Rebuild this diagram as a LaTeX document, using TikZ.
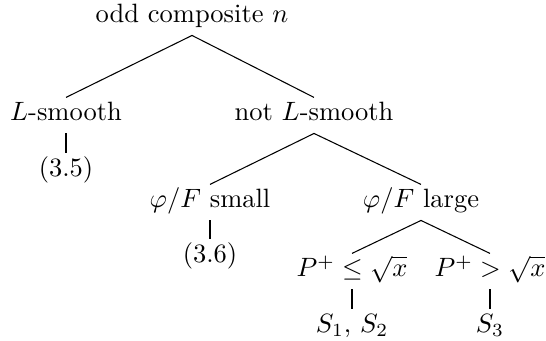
\documentclass[tikz,border=0pt]{standalone}
\usepackage{amsmath,amssymb}
\usepackage{tikz}

\begin{document}
\begin{tikzpicture}[x=0.3774pt,y=-0.3774pt,
    case/.style={anchor=base,inner sep=1.5pt,text height=7.2pt,text depth=3pt}]
    \useasboundingbox (0,0) rectangle (546,341);
    \foreach \name/\x/\y/\txt in {
      root/192/23/{odd composite $n$},
      smooth/66/121/{$L$-smooth},
      rough/314/121/{not $L$-smooth},
      eqa/66/177/{(3.5)},
      small/210/208/{$\varphi/F$ small},
      large/421/208/{$\varphi/F$ large},
      eqb/210/263/{(3.6)},
      low/352/277/{$P^+\le\sqrt{x}$},
      high/490/277/{$P^+>\sqrt{x}$},
      sone/352/333/{$S_1$, $S_2$},
      sthree/490/333/{$S_3$}}{
      \node[case] (\name) at (\x,\y) {\txt};
    }
    \foreach \a/\b in {root/smooth,root/rough,smooth/eqa,rough/small,rough/large,
      small/eqb,large/low,large/high,low/sone,high/sthree}
      \draw (\a.south) -- (\b.north);
  \end{tikzpicture}
\end{document}
